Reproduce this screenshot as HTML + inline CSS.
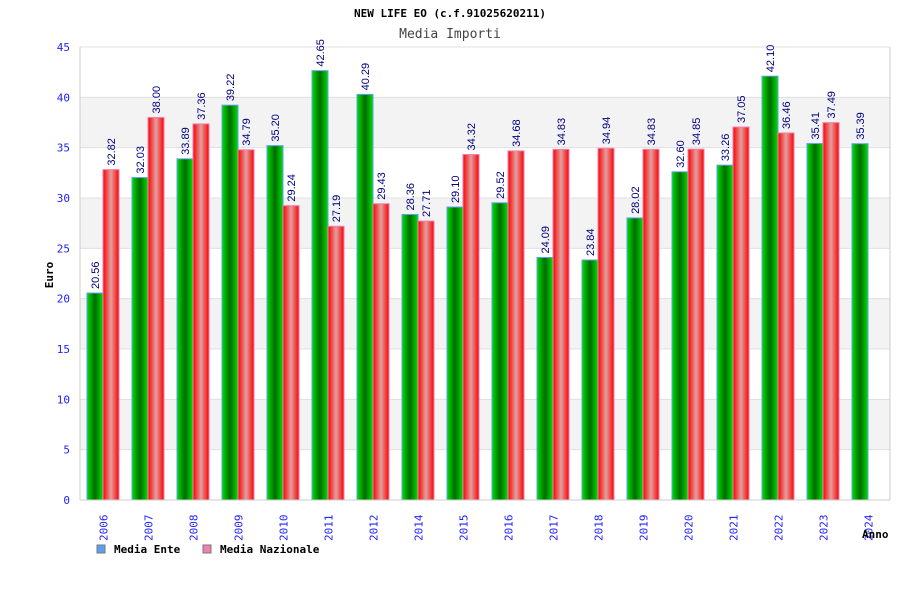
<!DOCTYPE html>
<html><head><meta charset="utf-8"><style>
body{margin:0;background:#fff;}
svg{display:block;font-family:"DejaVu Sans Mono","Liberation Mono",monospace;}
</style></head><body>
<svg id="c" width="900" height="600" viewBox="0 0 900 600">
<defs>
<linearGradient id="gg" x1="0" x2="1" y1="0" y2="0">
<stop offset="0" stop-color="#00e000"/><stop offset="0.5" stop-color="#006a00"/><stop offset="1" stop-color="#00e000"/></linearGradient>
<linearGradient id="rg" x1="0" x2="1" y1="0" y2="0">
<stop offset="0" stop-color="#ff0000"/><stop offset="0.5" stop-color="#e0a0a0"/><stop offset="1" stop-color="#ff0000"/></linearGradient>
</defs>
<text x="450" y="17" text-anchor="middle" font-size="11" font-weight="bold" fill="#000">NEW LIFE EO (c.f.91025620211)</text>
<text x="450" y="38" text-anchor="middle" font-size="13" fill="#444">Media Importi</text>
<g id="grid"></g><g id="bars"></g><g id="axes"></g>
<text transform="translate(53,275) rotate(-90)" text-anchor="middle" font-size="11" font-weight="bold" fill="#000">Euro</text>
<text x="862" y="538" font-size="11" font-weight="bold" fill="#000">Anno</text>
<rect x="97" y="545" width="8" height="8" fill="#5aa0f0" stroke="#777"/>
<text x="114" y="553" font-size="11" font-weight="bold">Media Ente</text>
<rect x="203" y="545" width="8" height="8" fill="#f080b0" stroke="#777"/>
<text x="220" y="553" font-size="11" font-weight="bold">Media Nazionale</text>
</svg>
<script>
const years=["2006","2007","2008","2009","2010","2011","2012","2014","2015","2016","2017","2018","2019","2020","2021","2022","2023","2024"];
const ente=[20.56,32.03,33.89,39.22,35.20,42.65,40.29,28.36,29.10,29.52,24.09,23.84,28.02,32.60,33.26,42.10,35.41,35.39];
const naz=[32.82,38.00,37.36,34.79,29.24,27.19,29.43,27.71,34.32,34.68,34.83,34.94,34.83,34.85,37.05,36.46,37.49,null];
const yTicks=[0,5,10,15,20,25,30,35,40,45];
const NS="http://www.w3.org/2000/svg";
const X0=80,X1=890,Y0=500,Y1=47,YMAX=45;
const y=v=>Y0-(v/YMAX)*(Y0-Y1);
const gw=(X1-X0)/years.length;
const gx=i=>X0+i*gw;
function mk(t,a,p){const e=document.createElementNS(NS,t);for(const k in a)e.setAttribute(k,a[k]);p.appendChild(e);return e;}
const grid=document.getElementById('grid'),bars=document.getElementById('bars'),axes=document.getElementById('axes');
for(let k=0;k<yTicks.length-1;k++){
  const a=yTicks[k],b=yTicks[k+1];
  const r=mk('rect',{x:X0,y:y(b),width:X1-X0,height:y(a)-y(b),fill:(k%2===1)?'#f3f3f3':'#fff'},grid);
  
  
}
yTicks.forEach(t=>{
  const l=mk('line',{x1:X0,x2:X1,y1:y(t),y2:y(t),stroke:'#e0e0e0'},grid);
  
  
  const tx=mk('text',{x:X0-10,y:y(t)+4,'text-anchor':'end','font-size':11,fill:'#2020ff'},axes);
  tx.textContent=t;
  
  
});
mk('line',{x1:X0,x2:X0,y1:Y1,y2:Y0,stroke:'#ccc'},axes);
mk('line',{x1:X0,x2:X1,y1:Y0,y2:Y0,stroke:'#ccc'},axes);
mk('line',{x1:X1,x2:X1,y1:Y1,y2:Y0,stroke:'#ccc'},axes);
const BW=16;
function label(xc,v){
  const t=mk('text',{transform:`translate(${xc+4},${y(v)-4}) rotate(-90)`,'font-size':11,fill:'#000080','font-family':'"Liberation Sans",sans-serif'},bars);
  t.textContent=v.toFixed(2);
  
  
}
years.forEach((yr,i)=>{
  const x=gx(i)+7;
  if(ente[i]!=null){
    const r=mk('rect',{x:x,y:y(ente[i]),width:BW,height:Y0-y(ente[i]),fill:'url(#gg)',stroke:'#5aa0f0','stroke-width':1},bars);
    
    
    label(x+BW/2,ente[i]);
  }
  if(naz[i]!=null){
    const r=mk('rect',{x:x+BW,y:y(naz[i]),width:BW,height:Y0-y(naz[i]),fill:'url(#rg)',stroke:'#f080b0','stroke-width':1},bars);
    
    
    label(x+BW*1.5,naz[i]);
  }
  const t=mk('text',{transform:`translate(${gx(i)+gw/2+5},${541}) rotate(-90)`,'font-size':11,fill:'#2020ff'},axes);
  t.textContent=yr;
  
  
});
</script>
</body></html>
